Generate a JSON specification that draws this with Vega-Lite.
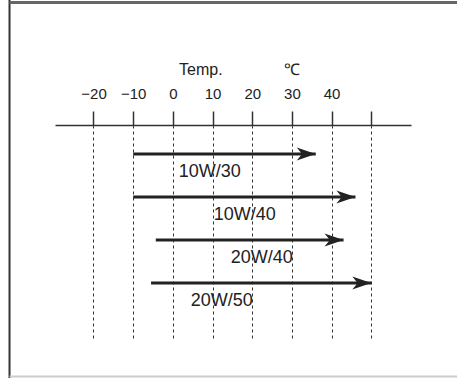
{
  "$schema": "https://vega.github.io/schema/vega-lite/v6.json",
  "width": 356,
  "height": 213,
  "autosize": {"type": "none"},
  "padding": {"left": 55, "top": 125, "right": 46, "bottom": 40},
  "background": "white",
  "config": {"view": {"stroke": null}},
  "layer": [
    {
      "data": {"values": [{"x": -41.16, "y1": -2.58, "y2": 6.3}]},
      "mark": {"type": "rule", "color": "#333333", "strokeWidth": 2},
      "encoding": {
        "x": {"field": "x", "type": "quantitative", "scale": {"domain": [-29.7, 60], "nice": false, "zero": false}, "axis": {
          "orient": "top", "title": null,
          "values": [-20, -10, 0, 10, 20, 30, 40, 50],
          "labelExpr": "datum.value == 50 ? '' : datum.label",
          "labelFont": "Liberation Sans",
          "labelFontSize": 15, "labelColor": "#222222", "labelPadding": 10,
          "domainColor": "#333333", "domainWidth": 1.5,
          "tickColor": "#333333", "tickWidth": 1.5, "tickSize": 14,
          "grid": true, "gridColor": "#333333", "gridDash": [3, 3], "gridWidth": 1, "gridOpacity": 1
        }},
        "y": {"field": "y1", "type": "quantitative", "scale": {"domain": [0.3256, 5.279], "reverse": true, "nice": false, "zero": false}, "axis": null},
        "y2": {"field": "y2"}
      }
    },
    {
      "data": {"values": [{"x1": -41.16, "x2": 71.6, "y": -2.523}]},
      "mark": {"type": "rule", "color": "#666666", "strokeWidth": 3},
      "encoding": {
        "x": {"field": "x1", "type": "quantitative"},
        "x2": {"field": "x2"},
        "y": {"field": "y", "type": "quantitative"}
      }
    },
    {
      "data": {"values": [{"x1": -41.16, "x2": 71.6, "y": 6.174}]},
      "mark": {"type": "rule", "color": "#cccccc", "strokeWidth": 2},
      "encoding": {
        "x": {"field": "x1", "type": "quantitative"},
        "x2": {"field": "x2"},
        "y": {"field": "y", "type": "quantitative"}
      }
    },
    {
      "data": {"values": [{"text": "Temp.", "x": 7.05, "y": -0.953}, {"text": "℃", "x": 30, "y": -0.953}]},
      "mark": {"type": "text", "font": "Liberation Sans", "fontSize": 16, "color": "#222222", "baseline": "middle", "align": "center"},
      "encoding": {
        "x": {"field": "x", "type": "quantitative"},
        "y": {"field": "y", "type": "quantitative"},
        "text": {"field": "text"}
      }
    },
    {
      "data": {"name": "oils", "values": [
        {"grade": "10W/30", "start": -10, "end": 36, "row": 1, "label_x": 9.3},
        {"grade": "10W/40", "start": -10, "end": 46, "row": 2, "label_x": 18.1},
        {"grade": "20W/40", "start": -4.3, "end": 43, "row": 3, "label_x": 22.4},
        {"grade": "20W/50", "start": -5.5, "end": 50, "row": 4, "label_x": 12.3}
      ]},
      "layer": [
        {
          "mark": {"type": "rule", "color": "#222222", "strokeWidth": 2.8},
          "encoding": {
            "x": {"field": "start", "type": "quantitative"},
            "x2": {"field": "end"},
            "y": {"field": "row", "type": "quantitative"}
          }
        },
        {
          "mark": {"type": "point", "shape": "M0,0 L-1,-0.34 L-0.72,0 L-1,0.34 Z", "size": 1444, "filled": true, "opacity": 1, "color": "#222222"},
          "encoding": {
            "x": {"field": "end", "type": "quantitative"},
            "y": {"field": "row", "type": "quantitative"}
          }
        },
        {
          "mark": {"type": "text", "font": "Liberation Sans", "fontSize": 18, "color": "#222222", "baseline": "middle", "align": "center", "dy": 18},
          "encoding": {
            "x": {"field": "label_x", "type": "quantitative"},
            "y": {"field": "row", "type": "quantitative"},
            "text": {"field": "grade"}
          }
        }
      ]
    }
  ]
}
